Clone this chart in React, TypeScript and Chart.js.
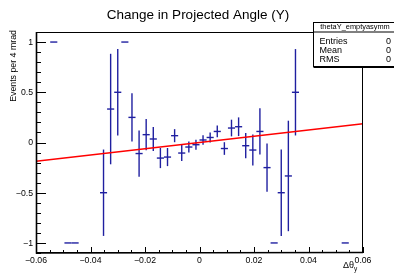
import React, { useEffect, useRef } from "react";
import { Chart, registerables } from "chart.js";

Chart.register(...registerables);

// Histogram bins (46 bins over -0.06..0.06); only non-empty bins are listed
const binCenters = [
  -0.05348, -0.04826, -0.04565, -0.03522, -0.03261, -0.03, -0.02739, -0.02478,
  -0.02217, -0.01957, -0.01696, -0.01435, -0.01174, -0.00913, -0.00652, -0.00391,
  -0.0013, 0.0013, 0.00391, 0.00652, 0.00913, 0.01174, 0.01435, 0.01696,
  0.01957, 0.02217, 0.02478, 0.02739, 0.03, 0.03261, 0.03522, 0.05348,
];
const binValues = [
  1, -1, -1, -0.5, 0.333, 0.5, 1, 0.25,
  -0.11, 0.078, 0.035, -0.155, -0.145, 0.068, -0.105, -0.045,
  -0.022, 0.025, 0.05, 0.11, -0.06, 0.144, 0.157, -0.032,
  -0.075, 0.11, -0.25, -1, -0.5, -0.333, 0.5, -1,
];
const binErrors = [
  0, 0, 0, 0.43, 0.55, 0.43, 0, 0.24,
  0.23, 0.155, 0.12, 0.1, 0.09, 0.065, 0.08, 0.055,
  0.05, 0.047, 0.05, 0.058, 0.063, 0.083, 0.093, 0.126,
  0.155, 0.23, 0.24, 0, 0.43, 0.55, 0.43, 0,
];
const binWidth = 0.0026087;

const fitX = [-0.06, 0.06];
const fitY = [-0.187, 0.187];

const xTickValues = [-0.06, -0.04, -0.02, 0, 0.02, 0.04, 0.06];
const xTickLabels = ["\u22120.06", "\u22120.04", "\u22120.02", "0", "0.02", "0.04", "0.06"];
const yTickValues = [-1, -0.5, 0, 0.5, 1];
const yTickLabels = ["\u22121", "\u22120.5", "0", "0.5", "1"];

const titleText = "Change in Projected Angle (Y)";
const yTitle = "Events per 4 mrad";
const xTitleMain = "\u0394\u03b8";
const xTitleSub = "y";
const statsName = "thetaY_emptyasymm";
const statsLabels = ["Entries", "Mean", "RMS"];
const statsValues = ["0", "0", "0"];

const FONT = "'Liberation Sans', Arial, Helvetica, sans-serif";

const rootStyle = {
  id: "rootStyle",
  beforeDatasetsDraw(chart: any) {
    const { ctx, chartArea: a } = chart;
    const x = chart.scales.x;
    const y = chart.scales.y;
    ctx.save();
    ctx.beginPath();
    ctx.rect(a.left, a.top, a.right - a.left, a.bottom - a.top);
    ctx.clip();
    ctx.strokeStyle = "#1f1fa0";
    ctx.lineWidth = 1.4;
    const pts = chart.data.datasets[0].data as any[];
    pts.forEach((p) => {
      const px = x.getPixelForValue(p.x);
      const x0 = x.getPixelForValue(p.x - binWidth / 2);
      const x1 = x.getPixelForValue(p.x + binWidth / 2);
      const py = y.getPixelForValue(p.y);
      ctx.beginPath();
      ctx.moveTo(x0, py);
      ctx.lineTo(x1, py);
      ctx.stroke();
      if (p.err > 0) {
        ctx.beginPath();
        ctx.moveTo(px, y.getPixelForValue(p.y + p.err));
        ctx.lineTo(px, y.getPixelForValue(p.y - p.err));
        ctx.stroke();
      }
    });
    ctx.restore();
  },
  afterDraw(chart: any) {
    const { ctx, chartArea: a } = chart;
    const x = chart.scales.x;
    const y = chart.scales.y;
    ctx.save();
    // frame
    ctx.strokeStyle = "#000";
    ctx.lineWidth = 1;
    ctx.strokeRect(a.left + 0.5, a.top + 0.5, a.right - a.left - 1, a.bottom - a.top - 1);
    ctx.lineWidth = 1.6;
    ctx.beginPath();
    ctx.moveTo(a.left + 0.5, a.top);
    ctx.lineTo(a.left + 0.5, a.bottom);
    ctx.lineTo(a.right, a.bottom - 0.5);
    ctx.stroke();

    // y ticks
    ctx.lineWidth = 1;
    for (let v = -1.1; v <= 1.1001; v += 0.1) {
      const vv = Math.round(v * 10) / 10;
      const py = Math.round(y.getPixelForValue(vv)) + 0.5;
      const major = Math.abs(vv * 2 - Math.round(vv * 2)) < 1e-6;
      ctx.beginPath();
      ctx.moveTo(a.left, py);
      ctx.lineTo(a.left + (major ? 10 : 5), py);
      ctx.stroke();
    }
    // x ticks
    for (let v = -0.06; v <= 0.06001; v += 0.005) {
      const vv = Math.round(v * 1000) / 1000;
      const px = Math.round(x.getPixelForValue(vv)) + 0.5;
      const major = Math.abs(vv * 50 - Math.round(vv * 50)) < 1e-6;
      ctx.beginPath();
      ctx.moveTo(px, a.bottom);
      ctx.lineTo(px, a.bottom - (major ? 6 : 3));
      ctx.stroke();
    }

    // tick labels
    ctx.fillStyle = "#000";
    ctx.font = `8.7px ${FONT}`;
    ctx.textAlign = "right";
    ctx.textBaseline = "middle";
    yTickValues.forEach((v, i) => {
      ctx.fillText(yTickLabels[i], a.left - 3, y.getPixelForValue(v) + 0.5);
    });
    ctx.textAlign = "center";
    ctx.textBaseline = "alphabetic";
    xTickValues.forEach((v, i) => {
      ctx.fillText(xTickLabels[i], x.getPixelForValue(v), 263);
    });

    // axis titles
    ctx.font = `9px ${FONT}`;
    ctx.textAlign = "right";
    ctx.fillText(xTitleMain, 354, 268);
    ctx.font = `6.5px ${FONT}`;
    ctx.textAlign = "left";
    ctx.fillText(xTitleSub, 354, 271);

    ctx.save();
    ctx.translate(15.5, a.top - 2);
    ctx.rotate(-Math.PI / 2);
    ctx.font = `8.8px ${FONT}`;
    ctx.textAlign = "right";
    ctx.fillText(yTitle, 0, 0);
    ctx.restore();

    // title
    ctx.font = `13.5px ${FONT}`;
    ctx.textAlign = "center";
    ctx.fillText(titleText, 198, 19);

    // stats box
    const bx = 313.5, by = 22.5, bw = 82, bh = 44;
    ctx.fillStyle = "#fff";
    ctx.fillRect(bx, by, bw, bh);
    ctx.strokeStyle = "#000";
    ctx.lineWidth = 1;
    ctx.strokeRect(bx, by, bw, bh);
    ctx.beginPath();
    ctx.moveTo(bx, by + bh + 1);
    ctx.lineTo(bx + bw, by + bh + 1);
    ctx.stroke();
    ctx.beginPath();
    ctx.moveTo(bx, 32);
    ctx.lineTo(bx + bw, 32);
    ctx.stroke();
    ctx.fillStyle = "#000";
    ctx.font = `7.4px ${FONT}`;
    ctx.textAlign = "center";
    ctx.fillText(statsName, 355, 28.5);
    ctx.font = `9px ${FONT}`;
    statsLabels.forEach((lab, i) => {
      const by2 = 43.5 + i * 9.4;
      ctx.textAlign = "left";
      ctx.fillText(lab, 319.5, by2);
      ctx.textAlign = "right";
      ctx.fillText(statsValues[i], 391, by2);
    });
    ctx.restore();
  },
};

export default function App() {
  const ref = useRef<HTMLCanvasElement>(null);
  useEffect(() => {
    if (!ref.current) return;
    const chart = new Chart(ref.current, {
      type: "scatter",
      data: {
        datasets: [
          {
            label: "hist",
            data: binCenters.map((c, i) => ({ x: c, y: binValues[i], err: binErrors[i] })) as any,
            pointRadius: 0,
            showLine: false,
          },
          {
            type: "line",
            label: "fit",
            data: fitX.map((v, i) => ({ x: v, y: fitY[i] })),
            borderColor: "#ff0000",
            borderWidth: 1.5,
            pointRadius: 0,
            fill: false,
          } as any,
        ],
      },
      options: {
        animation: false,
        responsive: false,
        devicePixelRatio: 1,
        layout: { padding: { left: 36, right: 31, top: 32, bottom: 20 } },
        scales: {
          x: { type: "linear", min: -0.06, max: 0.06, display: false },
          y: { type: "linear", min: -1.1, max: 1.1, display: false },
        },
        plugins: {
          legend: { display: false },
          tooltip: { enabled: false },
          title: { display: false },
        },
      },
      plugins: [rootStyle],
    });
    return () => chart.destroy();
  }, []);
  return (
    <div style={{ position: "absolute", left: 0, top: 0, width: 394, height: 273, background: "#fff" }}>
      <canvas ref={ref} width={394} height={273} style={{ width: 394, height: 273 }} />
    </div>
  );
}
